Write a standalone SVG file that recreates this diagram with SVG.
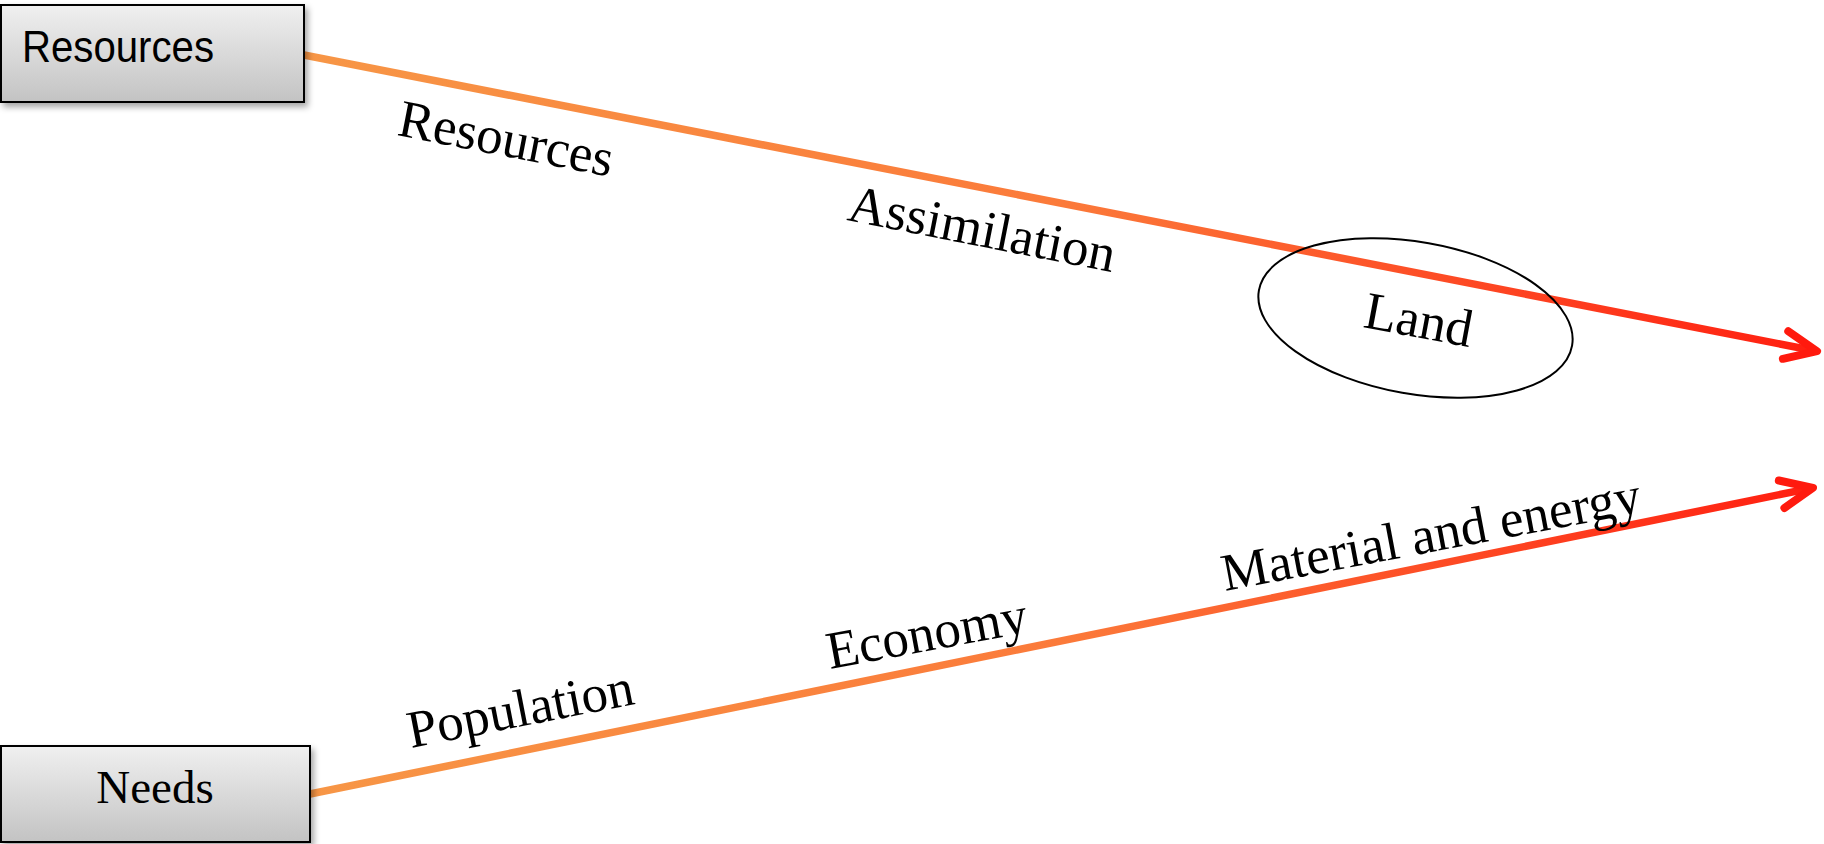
<svg xmlns="http://www.w3.org/2000/svg" width="1824" height="844" viewBox="0 0 1824 844">
  <defs>
    <linearGradient id="boxFill" x1="0" y1="0" x2="0" y2="1">
      <stop offset="0" stop-color="#f0f0f0"/>
      <stop offset="1" stop-color="#c3c3c3"/>
    </linearGradient>
    <linearGradient id="flowTop" gradientUnits="userSpaceOnUse" x1="304" y1="55" x2="1821" y2="352">
      <stop offset="0" stop-color="#f79646"/>
      <stop offset="0.5" stop-color="#fb7a3a"/>
      <stop offset="1" stop-color="#ff1e10"/>
    </linearGradient>
    <linearGradient id="flowBottom" gradientUnits="userSpaceOnUse" x1="310" y1="794" x2="1817" y2="487">
      <stop offset="0" stop-color="#f79646"/>
      <stop offset="0.5" stop-color="#fb7a3a"/>
      <stop offset="1" stop-color="#ff1e10"/>
    </linearGradient>
    <marker id="chevron" markerUnits="userSpaceOnUse" viewBox="-40 -25 50 50" markerWidth="50" markerHeight="50" refX="0" refY="0" orient="auto" overflow="visible">
      <path d="M -32 -14 L 0 0 L -32 14" fill="none" stroke="#ff1a0e" stroke-width="8" stroke-linecap="round" stroke-linejoin="round"/>
    </marker>
    <filter id="shadow" x="-10%" y="-10%" width="130%" height="140%">
      <feDropShadow dx="3" dy="4" stdDeviation="3" flood-color="#000" flood-opacity="0.35"/>
    </filter>
  </defs>
  <style>
    .box { fill: url(#boxFill); stroke: #000; stroke-width: 2; filter: url(#shadow); }
    .flow { fill: none; stroke-width: 7.5; stroke-linecap: butt; marker-end: url(#chevron); }
    .lbl { font-family: "Liberation Serif", "Times New Roman", serif; font-size: 53px; fill: #000; }
    .sans { font-family: "Liberation Sans", Arial, sans-serif; font-size: 45px; fill: #000; }
  </style>

  <g id="connectors">
    <path class="flow" d="M 304 55 L 1817 351.2" stroke="url(#flowTop)"/>
    <path class="flow" d="M 310 794 L 1813 487.8" stroke="url(#flowBottom)"/>
  </g>

  <g id="node-resources">
    <rect class="box" x="1" y="5" width="303" height="97"/>
    <text class="sans" x="22" y="62" textLength="192" lengthAdjust="spacingAndGlyphs">Resources</text>
  </g>

  <g id="node-needs">
    <rect class="box" x="1" y="746" width="309" height="96"/>
    <text class="lbl" x="155" y="803" text-anchor="middle" style="font-size:47px">Needs</text>
  </g>

  <g id="node-land">
    <ellipse cx="1415.5" cy="318" rx="159" ry="76" transform="rotate(10 1415.5 318)" fill="none" stroke="#000" stroke-width="2"/>
    <text class="lbl" x="1362" y="327" transform="rotate(10.6 1362 327)">Land</text>
  </g>

  <g id="labels-top">
    <text class="lbl" x="396" y="135" transform="rotate(11 396 135)">Resources</text>
    <text class="lbl" x="846" y="220" transform="rotate(11.1 846 220)">Assimilation</text>
  </g>

  <g id="labels-bottom">
    <text class="lbl" x="411" y="748" transform="rotate(-11.1 411 748)">Population</text>
    <text class="lbl" x="830" y="669" transform="rotate(-10.5 830 669)">Economy</text>
    <text class="lbl" x="1225" y="591" transform="rotate(-10.7 1225 591)">Material and energy</text>
  </g>
</svg>
